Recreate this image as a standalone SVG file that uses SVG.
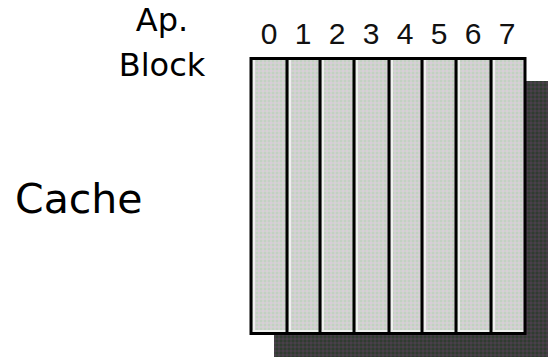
<svg xmlns="http://www.w3.org/2000/svg" width="548" height="357" viewBox="0 0 548 357">
  <defs>
    <pattern id="light" width="4" height="4" patternUnits="userSpaceOnUse">
      <rect width="4" height="4" fill="#cfd3cd"/>
      <rect width="2" height="2" fill="#c2d0c2"/>
      <rect x="2" y="2" width="2" height="2" fill="#d9cdd9"/>
    </pattern>
    <pattern id="dark" width="4" height="4" patternUnits="userSpaceOnUse">
      <rect width="4" height="4" fill="#3e3e3e"/>
      <rect width="2" height="2" fill="#2f3c30"/>
      <rect x="2" y="2" width="2" height="2" fill="#4a3f4b"/>
    </pattern>
  </defs>
  <style>
    .lbl { font-family: "DejaVu Sans", sans-serif; fill: #000; }
    .dig { font-family: "Liberation Sans", Arial, sans-serif; font-size: 30px; fill: #111; text-anchor: middle; }
    .div { stroke: #000; stroke-width: 3; }
    .hl { stroke: #eef0ee; stroke-width: 2; }
  </style>
  <rect width="548" height="357" fill="#ffffff"/>

  <g id="label-apblock">
    <text class="lbl" x="162" y="31" font-size="32" text-anchor="middle">Ap.</text>
    <text class="lbl" x="162" y="76" font-size="32" text-anchor="middle">Block</text>
  </g>
  <g id="label-cache">
    <text class="lbl" x="15" y="213" font-size="41">Cache</text>
  </g>

  <g id="digits">
    <text class="dig" x="269" y="44">0</text>
    <text class="dig" x="303" y="44">1</text>
    <text class="dig" x="337" y="44">2</text>
    <text class="dig" x="371" y="44">3</text>
    <text class="dig" x="405" y="44">4</text>
    <text class="dig" x="439" y="44">5</text>
    <text class="dig" x="473" y="44">6</text>
    <text class="dig" x="507" y="44">7</text>
  </g>

  <g id="cache-shadow">
    <rect x="274" y="81" width="274" height="276" fill="url(#dark)"/>
  </g>

  <g id="cache-block">
    <rect x="251" y="58.5" width="274" height="275" fill="url(#light)"/>
    <g id="highlights">
      <line class="hl" x1="254" y1="60" x2="254" y2="332"/>
      <line class="hl" x1="290" y1="60" x2="290" y2="332"/>
      <line class="hl" x1="323" y1="60" x2="323" y2="332"/>
      <line class="hl" x1="357" y1="60" x2="357" y2="332"/>
      <line class="hl" x1="392" y1="60" x2="392" y2="332"/>
      <line class="hl" x1="425" y1="60" x2="425" y2="332"/>
      <line class="hl" x1="459" y1="60" x2="459" y2="332"/>
      <line class="hl" x1="494" y1="60" x2="494" y2="332"/>
      <line class="hl" x1="252" y1="331" x2="524" y2="331"/>
    </g>
    <g id="dividers">
      <line class="div" x1="287" y1="58.5" x2="287" y2="333.5"/>
      <line class="div" x1="320" y1="58.5" x2="320" y2="333.5"/>
      <line class="div" x1="354" y1="58.5" x2="354" y2="333.5"/>
      <line class="div" x1="389" y1="58.5" x2="389" y2="333.5"/>
      <line class="div" x1="422" y1="58.5" x2="422" y2="333.5"/>
      <line class="div" x1="456" y1="58.5" x2="456" y2="333.5"/>
      <line class="div" x1="491" y1="58.5" x2="491" y2="333.5"/>
    </g>
    <rect x="251" y="58.5" width="274" height="275" fill="none" stroke="#000" stroke-width="3"/>
  </g>
</svg>
